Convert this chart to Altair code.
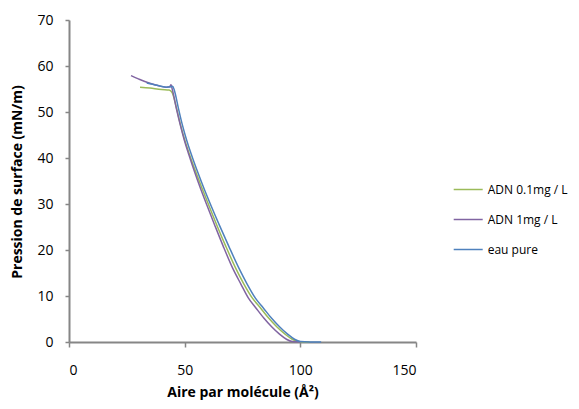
import altair as alt
import pandas as pd

series_names = ["ADN 0.1mg / L", "ADN 1mg / L", "eau pure"]
series_colors = ["#9BBB59", "#8064A2", "#4F81BD"]

green_area = [30.7, 35, 40, 43.3, 44.6, 46.5, 48.2, 50.1, 52.2, 54.7, 57.6, 60.6, 63.9, 67.7, 72.1, 75.6, 79.2, 82.8, 86.3, 89.8, 93.4, 96.5, 99.2, 104]
green_pi = [55.4, 55.2, 54.9, 54.8, 54.2, 50.8, 47.2, 43.8, 40.6, 37.1, 33.3, 29.5, 25.4, 20.9, 16.0, 12.6, 9.6, 7.4, 5.2, 3.3, 1.7, 0.6, 0.1, 0]

purple_area = [26.8, 30, 34, 38, 42, 43.5, 44.1, 44.7, 46.4, 48.1, 49.9, 51.9, 54.2, 56.9, 59.8, 63, 66.6, 70.8, 74.3, 77.5, 80.8, 84.2, 87.6, 91, 94, 96.5, 100]
purple_pi = [57.9, 57.2, 56.4, 55.8, 55.4, 55.5, 55.9, 54.8, 50.8, 47.2, 43.8, 40.6, 37.1, 33.3, 29.5, 25.4, 20.9, 16.0, 12.6, 9.6, 7.4, 5.2, 3.3, 1.7, 0.6, 0.1, 0]

blue_area = [33.6, 38, 42, 44.3, 44.8, 45.5, 47.3, 49, 50.9, 53, 55.5, 58.4, 61.5, 65, 69, 73.5, 77, 80.5, 84, 87.5, 91, 94.5, 97.5, 100, 104, 109]
blue_pi = [56.3, 55.8, 55.4, 55.5, 55.6, 54.8, 50.8, 47.2, 43.8, 40.6, 37.1, 33.3, 29.5, 25.4, 20.9, 16.0, 12.6, 9.6, 7.4, 5.2, 3.3, 1.7, 0.6, 0.1, 0, 0]

x_ticks = [0, 50, 100, 150]
y_ticks = [0, 10, 20, 30, 40, 50, 60, 70]

rows = []
for name, xs, ys in [(series_names[0], green_area, green_pi),
                     (series_names[1], purple_area, purple_pi),
                     (series_names[2], blue_area, blue_pi)]:
    for a, p in zip(xs, ys):
        rows.append({"serie": name, "aire": a, "pression": p})
df = pd.DataFrame(rows)

FONT = "Open Sans"

chart = alt.Chart(df).mark_line(strokeWidth=1.5, interpolate="monotone").encode(
    x=alt.X("aire:Q",
            scale=alt.Scale(domain=[0, 150], nice=False),
            axis=alt.Axis(values=x_ticks, title="Aire par molécule (Å²)", grid=False,
                          domainColor="#868686", domainWidth=2, tickColor="#868686",
                          tickWidth=1.5, tickSize=5, labelPadding=16,
                          labelFont=FONT, labelFontSize=14, labelColor="#000000",
                          titleFont=FONT, titleFontSize=14, titleFontWeight="bold",
                          titleColor="#000000", titleX=173.5, titleY=50,
                          titleBaseline="middle", titleAlign="center")),
    y=alt.Y("pression:Q",
            scale=alt.Scale(domain=[0, 70], nice=False),
            axis=alt.Axis(values=y_ticks, title="Pression de surface (mN/m)", grid=False,
                          domainColor="#868686", domainWidth=2, tickColor="#868686",
                          tickWidth=1.5, tickSize=4, labelPadding=12,
                          labelFont=FONT, labelFontSize=14, labelColor="#000000",
                          titleFont=FONT, titleFontSize=14, titleFontWeight="bold",
                          titleColor="#000000", titleX=-52, titleY=161.5, titleAngle=-90,
                          titleBaseline="middle", titleAlign="center")),
    color=alt.Color("serie:N",
                    scale=alt.Scale(domain=series_names, range=series_colors),
                    legend=alt.Legend(title=None, orient="none", legendX=383.7, legendY=154,
                                      symbolType="stroke", symbolSize=841,
                                      symbolStrokeWidth=1.5, labelOffset=4,
                                      labelFont=FONT, labelFontSize=12,
                                      labelColor="#000000", rowPadding=8, padding=0)),
).properties(
    width=347, height=322,
    autosize=alt.AutoSizeParams(type="none"),
    padding={"left": 61, "top": 12, "right": 155, "bottom": 59},
).configure_view(stroke=None)

chart.save("out.html", embed_options={"renderer": "svg", "actions": False})
